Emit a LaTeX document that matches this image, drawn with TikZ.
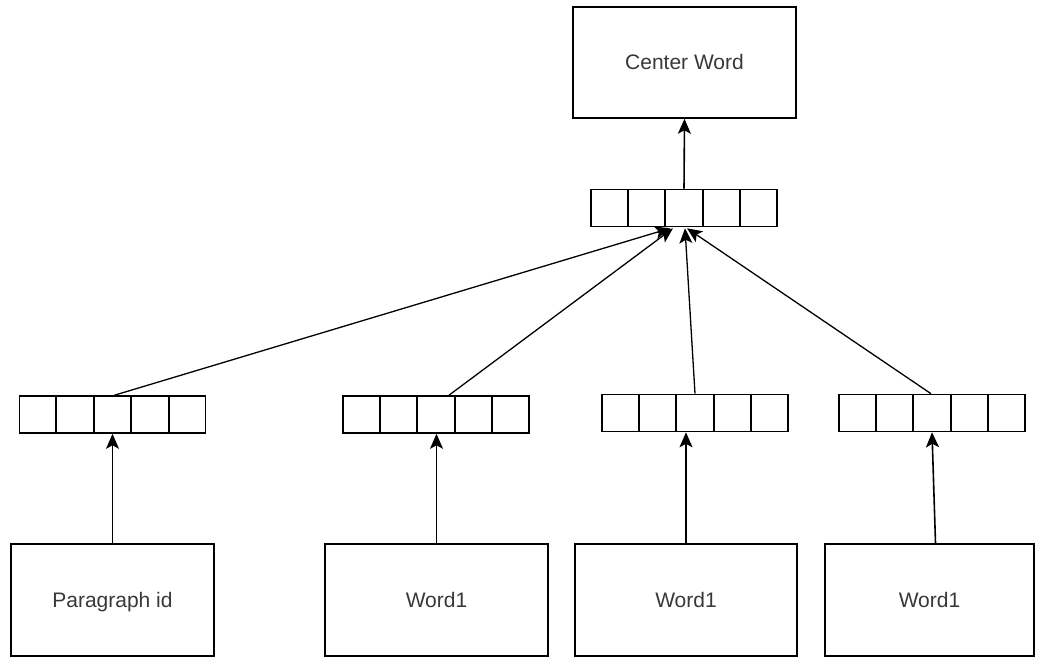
\documentclass[tikz,border=0pt]{standalone}
\usepackage{fontspec}
\setmainfont{Liberation Sans}
\usetikzlibrary{arrows.meta,calc}
\begin{document}
\begin{tikzpicture}[x=1pt,y=-1pt,
  box/.style={draw, line width=1.6pt, minimum height=112pt, inner sep=0pt,
    font=\fontsize{21}{25}\selectfont, text=black!78, text height=15pt, text depth=0pt},
  vec/.style={draw, line width=1.6pt, minimum width=186pt, minimum height=37pt, inner sep=0pt},
  tip/.style={-{Stealth[length=15pt,width=13pt,inset=3.5pt]}},
  conn/.style={line width=1.6pt, tip},
  link/.style={line width=1.3pt, tip}]
\useasboundingbox (0,0) rectangle (1041,658);

% output word
\node[box, minimum width=223pt, minimum height=111pt] (cw) at (684.5,62.5) {Center Word};

% hidden vectors
\node[vec] (vt) at (684,208) {};
\node[vec] (v1) at (112.5,414.5) {};
\node[vec] (v2) at (436,414.5) {};
\node[vec] (v3) at (695,413) {};
\node[vec] (v4) at (932,413) {};

% cell dividers of each vector
\foreach \v in {vt,v1,v2,v3,v4}{
  \foreach \k in {1,...,4}{
    \draw[line width=1.6pt]
      ($(\v.north west)!\k/5!(\v.north east)$) -- ($(\v.south west)!\k/5!(\v.south east)$);
  }
}

% input boxes
\node[box, minimum width=203pt] (b1) at (112.5,600) {Paragraph id};
\node[box, minimum width=223pt] (b2) at (436.5,600) {Word1};
\node[box, minimum width=222pt] (b3) at (686,600) {Word1};
\node[box, minimum width=209pt] (b4) at (929.5,600) {Word1};

% inputs to their vectors
\draw[conn] (b1.north) -- (b1.north |- v1.south);
\draw[conn] (b2.north) -- (b2.north |- v2.south);
\draw[conn] (b3.north) -- (b3.north |- v3.south);
\draw[conn] ($(b4.north)+(6,0)$) -- ($(v4.south)+(0,0)$);

% vectors combined into the hidden vector
\draw[link] ($(v1.north)+(2,0)$) -- ($(vt.south)+(-14,1)$);
\draw[link] ($(v2.north)+(13,0)$) -- ($(vt.south)+(-11,1)$);
\draw[link] (v3.north) -- ($(vt.south)+(1,1)$);
\draw[link] ($(v4.north)+(-1,0)$) -- ($(vt.south)+(3,1)$);

% hidden vector to output
\draw[conn] (vt.north) -- (cw.south);
\end{tikzpicture}
\end{document}
